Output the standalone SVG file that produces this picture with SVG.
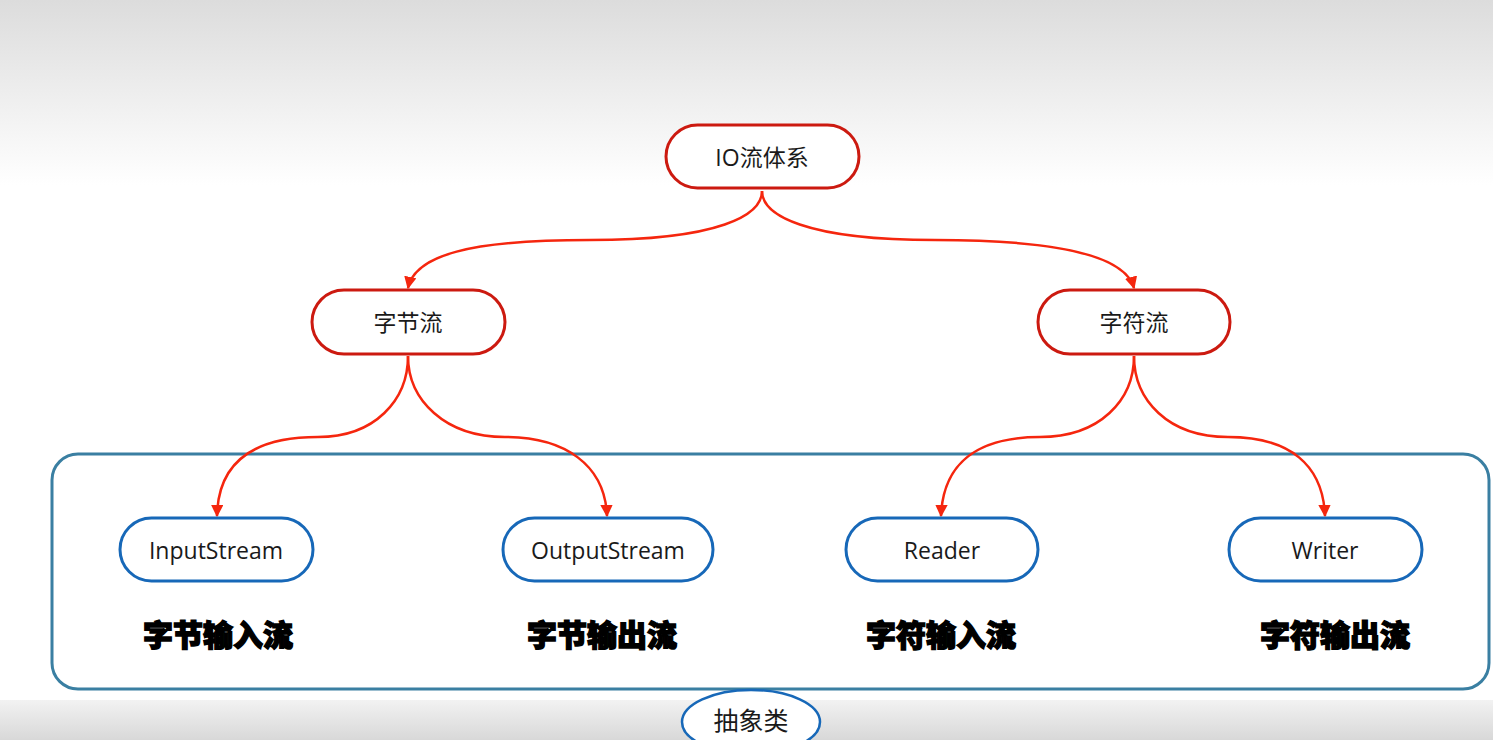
<svg xmlns="http://www.w3.org/2000/svg" width="1493" height="740" viewBox="0 0 1493 740">
<defs>
<linearGradient id="bg" x1="0" y1="0" x2="0" y2="1">
<stop offset="0" stop-color="#dcdcdc"/>
<stop offset="0.25" stop-color="#ffffff"/>
<stop offset="1" stop-color="#ffffff"/>
</linearGradient>
<linearGradient id="bot" x1="0" y1="0" x2="0" y2="1">
<stop offset="0" stop-color="#f2f2f2"/>
<stop offset="1" stop-color="#d8d8d8"/>
</linearGradient>
<marker id="arr" viewBox="0 0 10 10" refX="9" refY="5" markerWidth="5" markerHeight="5" orient="auto">
<path d="M0,0 L10,5 L0,10 z" fill="#f5260e"/>
</marker>
<style>
.red{fill:#ffffff;stroke:#cc1a10;stroke-width:3}
.blue{fill:#ffffff;stroke:#1768b8;stroke-width:3}
.t{font-family:"Open Sans","Noto Sans","Noto Sans CJK SC",sans-serif;font-size:23px;fill:#1a1a1a;text-anchor:middle;dominant-baseline:central}
.lab{font-family:"Noto Sans CJK SC",sans-serif;font-size:30px;font-weight:900;fill:#000;text-anchor:middle;dominant-baseline:central;stroke:#000;stroke-width:1.4}
.c{fill:none;stroke:#f5260e;stroke-width:2.5;marker-end:url(#arr)}
</style>
</defs>
<rect width="1493" height="740" fill="url(#bg)"/>
<rect x="0" y="700" width="1493" height="40" fill="url(#bot)"/>
<g id="frame">
<rect x="52" y="454" width="1437" height="235" rx="26" fill="none" stroke="#3a7fa2" stroke-width="3"/>
</g>
<g id="connectors">
<path class="c" d="M762,191 C762,215 720,240 590,240 C470,240 415,255 408,288"/>
<path class="c" d="M762,191 C762,215 805,240 935,240 C1055,240 1125,255 1134,288"/>
<path class="c" d="M408,356 C408,400 375,437 318,437 C250,437 218,465 217,516"/>
<path class="c" d="M408,356 C408,400 445,437 505,437 C565,437 605,465 607,516"/>
<path class="c" d="M1134,356 C1134,400 1100,437 1040,437 C975,437 943,465 941,516"/>
<path class="c" d="M1134,356 C1134,400 1168,437 1228,437 C1290,437 1323,465 1325,516"/>
</g>
<g id="n-io"><rect class="red" x="666" y="125" width="193" height="63" rx="31.5"/><text class="t" x="762" y="157">IO流体系</text></g>
<g id="n-byte"><rect class="red" x="312" y="290" width="193" height="64" rx="32"/><text class="t" x="408" y="322">字节流</text></g>
<g id="n-char"><rect class="red" x="1038" y="290" width="192" height="64" rx="32"/><text class="t" x="1134" y="322">字符流</text></g>
<g id="n-input"><rect class="blue" x="120" y="518" width="193" height="63" rx="31.5"/><text class="t" x="216" y="550">InputStream</text></g>
<g id="n-output"><rect class="blue" x="503" y="518" width="210" height="63" rx="31.5"/><text class="t" x="608" y="550">OutputStream</text></g>
<g id="n-reader"><rect class="blue" x="846" y="518" width="192" height="63" rx="31.5"/><text class="t" x="942" y="550">Reader</text></g>
<g id="n-writer"><rect class="blue" x="1229" y="518" width="193" height="63" rx="31.5"/><text class="t" x="1325" y="550">Writer</text></g>
<g id="labels">
<text class="lab" x="218" y="633">字节输入流</text>
<text class="lab" x="602" y="633">字节输出流</text>
<text class="lab" x="941" y="633">字符输入流</text>
<text class="lab" x="1335" y="633">字符输出流</text>
</g>
<g id="n-abstract">
<ellipse cx="751" cy="722" rx="69" ry="32" fill="#ffffff" stroke="#1768b8" stroke-width="2.5"/>
<text class="t" x="751" y="720" style="font-size:25px">抽象类</text>
</g>
</svg>
